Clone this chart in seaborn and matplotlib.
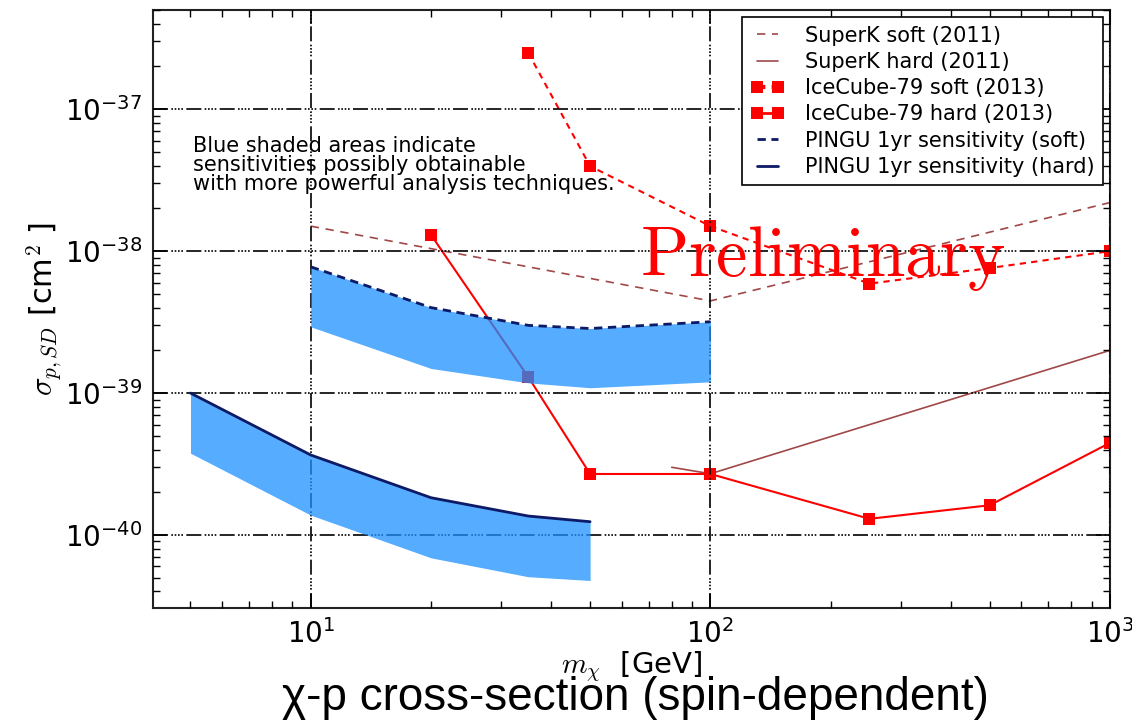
import matplotlib
matplotlib.use("Agg")
import matplotlib.pyplot as plt
import seaborn as sns
from matplotlib.lines import Line2D

# masses [GeV] and cross-sections [cm^2]
superk_soft_x = [10, 100, 1000]
superk_soft_y = [1.5e-38, 4.46e-39, 2.2e-38]
superk_hard_x = [80, 100, 1000]
superk_hard_y = [3.0e-40, 2.7e-40, 2.0e-39]

ic_soft_x = [35, 50, 100, 250, 500, 1000]
ic_soft_y = [2.5e-37, 3.97e-38, 1.5e-38, 5.9e-39, 7.6e-39, 1.0e-38]
ic_hard_x = [20, 35, 50, 100, 250, 500, 1000]
ic_hard_y = [1.3e-38, 1.3e-39, 2.69e-40, 2.69e-40, 1.3e-40, 1.62e-40, 4.46e-40]

pingu_soft_x = [10, 20, 35, 50, 100]
pingu_soft_y = [7.75e-39, 4.0e-39, 3.0e-39, 2.85e-39, 3.18e-39]
pingu_soft_low = [2.93e-39, 1.49e-39, 1.18e-39, 1.09e-39, 1.2e-39]

pingu_hard_x = [5, 10, 20, 35, 50]
pingu_hard_y = [1.0e-39, 3.66e-40, 1.83e-40, 1.36e-40, 1.24e-40]
pingu_hard_low = [3.77e-40, 1.38e-40, 6.9e-41, 5.08e-41, 4.78e-41]

labels = [
    "SuperK soft (2011)",
    "SuperK hard (2011)",
    "IceCube-79 soft (2013)",
    "IceCube-79 hard (2013)",
    "PINGU 1yr sensitivity (soft)",
    "PINGU 1yr sensitivity (hard)",
]

sns.set_style("ticks")
plt.rcParams["font.family"] = ["DejaVu Sans"]
plt.rcParams["xtick.direction"] = "in"
plt.rcParams["ytick.direction"] = "in"
plt.rcParams["xtick.top"] = True
plt.rcParams["ytick.right"] = True
plt.rcParams["xtick.color"] = "black"
plt.rcParams["ytick.color"] = "black"
plt.rcParams["axes.labelcolor"] = "black"
plt.rcParams["text.color"] = "black"
plt.rcParams["axes.unicode_minus"] = False

sk_col = "#a04848"
red = "#ff0000"
navy = "#0d1a66"
band = "#1e90ff"

fig = plt.figure(figsize=(11.32, 7.2), dpi=100)
ax = fig.add_axes([0.1352, 0.1556, 0.8454, 0.8305])

sk_dash = (0, (5, 4))
sns.lineplot(x=superk_soft_x, y=superk_soft_y, ax=ax, color=sk_col,
             linestyle=sk_dash, linewidth=1.2, zorder=2)
sns.lineplot(x=superk_hard_x, y=superk_hard_y, ax=ax, color=sk_col,
             linewidth=1.2, zorder=2)
sns.lineplot(x=ic_soft_x, y=ic_soft_y, ax=ax, color=red,
             linestyle=(0, (3, 2.5)), linewidth=1.5, marker="s", markersize=8,
             markeredgewidth=0, zorder=2)
sns.lineplot(x=ic_hard_x, y=ic_hard_y, ax=ax, color=red, linewidth=1.5,
             marker="s", markersize=8, markeredgewidth=0, zorder=2)

ax.fill_between(pingu_soft_x, pingu_soft_low, pingu_soft_y, color=band,
                alpha=0.75, linewidth=0, zorder=3)
ax.fill_between(pingu_hard_x, pingu_hard_low, pingu_hard_y, color=band,
                alpha=0.75, linewidth=0, zorder=3)
sns.lineplot(x=pingu_soft_x, y=pingu_soft_y, ax=ax, color=navy,
             linestyle=(0, (3, 2)), linewidth=2, zorder=4)
sns.lineplot(x=pingu_hard_x, y=pingu_hard_y, ax=ax, color=navy,
             linewidth=2, zorder=4)

ax.set_xscale("log")
ax.set_yscale("log")
ax.set_xlim(4.03, 1000)
ax.set_ylim(3.06e-41, 5e-37)

ax.grid(True, which="major", color="black", linewidth=1.2,
        linestyle=(0, (9, 2, 1, 1, 1, 1, 1, 1, 1, 2)))
ax.set_axisbelow(False)
for s in ax.spines.values():
    s.set_linewidth(1.5)
    s.set_color("#222222")
ax.tick_params(which="major", length=10, width=1.2, labelsize=20, pad=8)
ax.tick_params(which="minor", length=5, width=1.0)

ax.set_ylabel(r"$\sigma_{p,SD}$ [cm$^2$ ]", fontsize=22, math_fontfamily="cm",
              labelpad=0)
ax.set_xlabel(r"$m_\chi$  [GeV]", fontsize=21, math_fontfamily="cm",
              labelpad=0)

ax.text(0.042, 0.79,
        "Blue shaded areas indicate\nsensitivities possibly obtainable\n"
        "with more powerful analysis techniques.",
        transform=ax.transAxes, fontsize=15, va="top",
        linespacing=0.95, zorder=6)
ax.text(0.509, 0.555, r"$\mathrm{Preliminary}$", transform=ax.transAxes,
        fontsize=51, color=red, math_fontfamily="cm", zorder=6)

handles = [
    Line2D([], [], color=sk_col, linestyle=sk_dash, linewidth=1.2),
    Line2D([], [], color=sk_col, linewidth=1.2),
    Line2D([], [], color=red, linestyle=(0, (2, 1.5)), linewidth=3,
           marker="s", markersize=8, markeredgewidth=0),
    Line2D([], [], color=red, linewidth=2, marker="s", markersize=8,
           markeredgewidth=0),
    Line2D([], [], color=navy, linestyle=(0, (3, 2)), linewidth=2),
    Line2D([], [], color=navy, linewidth=2),
]
leg = ax.legend(handles, labels, loc="upper right", fontsize=15, numpoints=2,
                fancybox=False, framealpha=1, edgecolor="black",
                borderaxespad=0.35, labelspacing=0.3, handlelength=1.6,
                handletextpad=1.0, borderpad=0.4)
leg.get_frame().set_linewidth(1.2)
leg.set_zorder(7)

fig.text(0.561, 0.014, "\u03c7-p cross-section (spin-dependent)", fontsize=33,
         family=["Liberation Sans", "DejaVu Sans"], ha="center",
         va="baseline")

fig.savefig("out.png", dpi=100)
